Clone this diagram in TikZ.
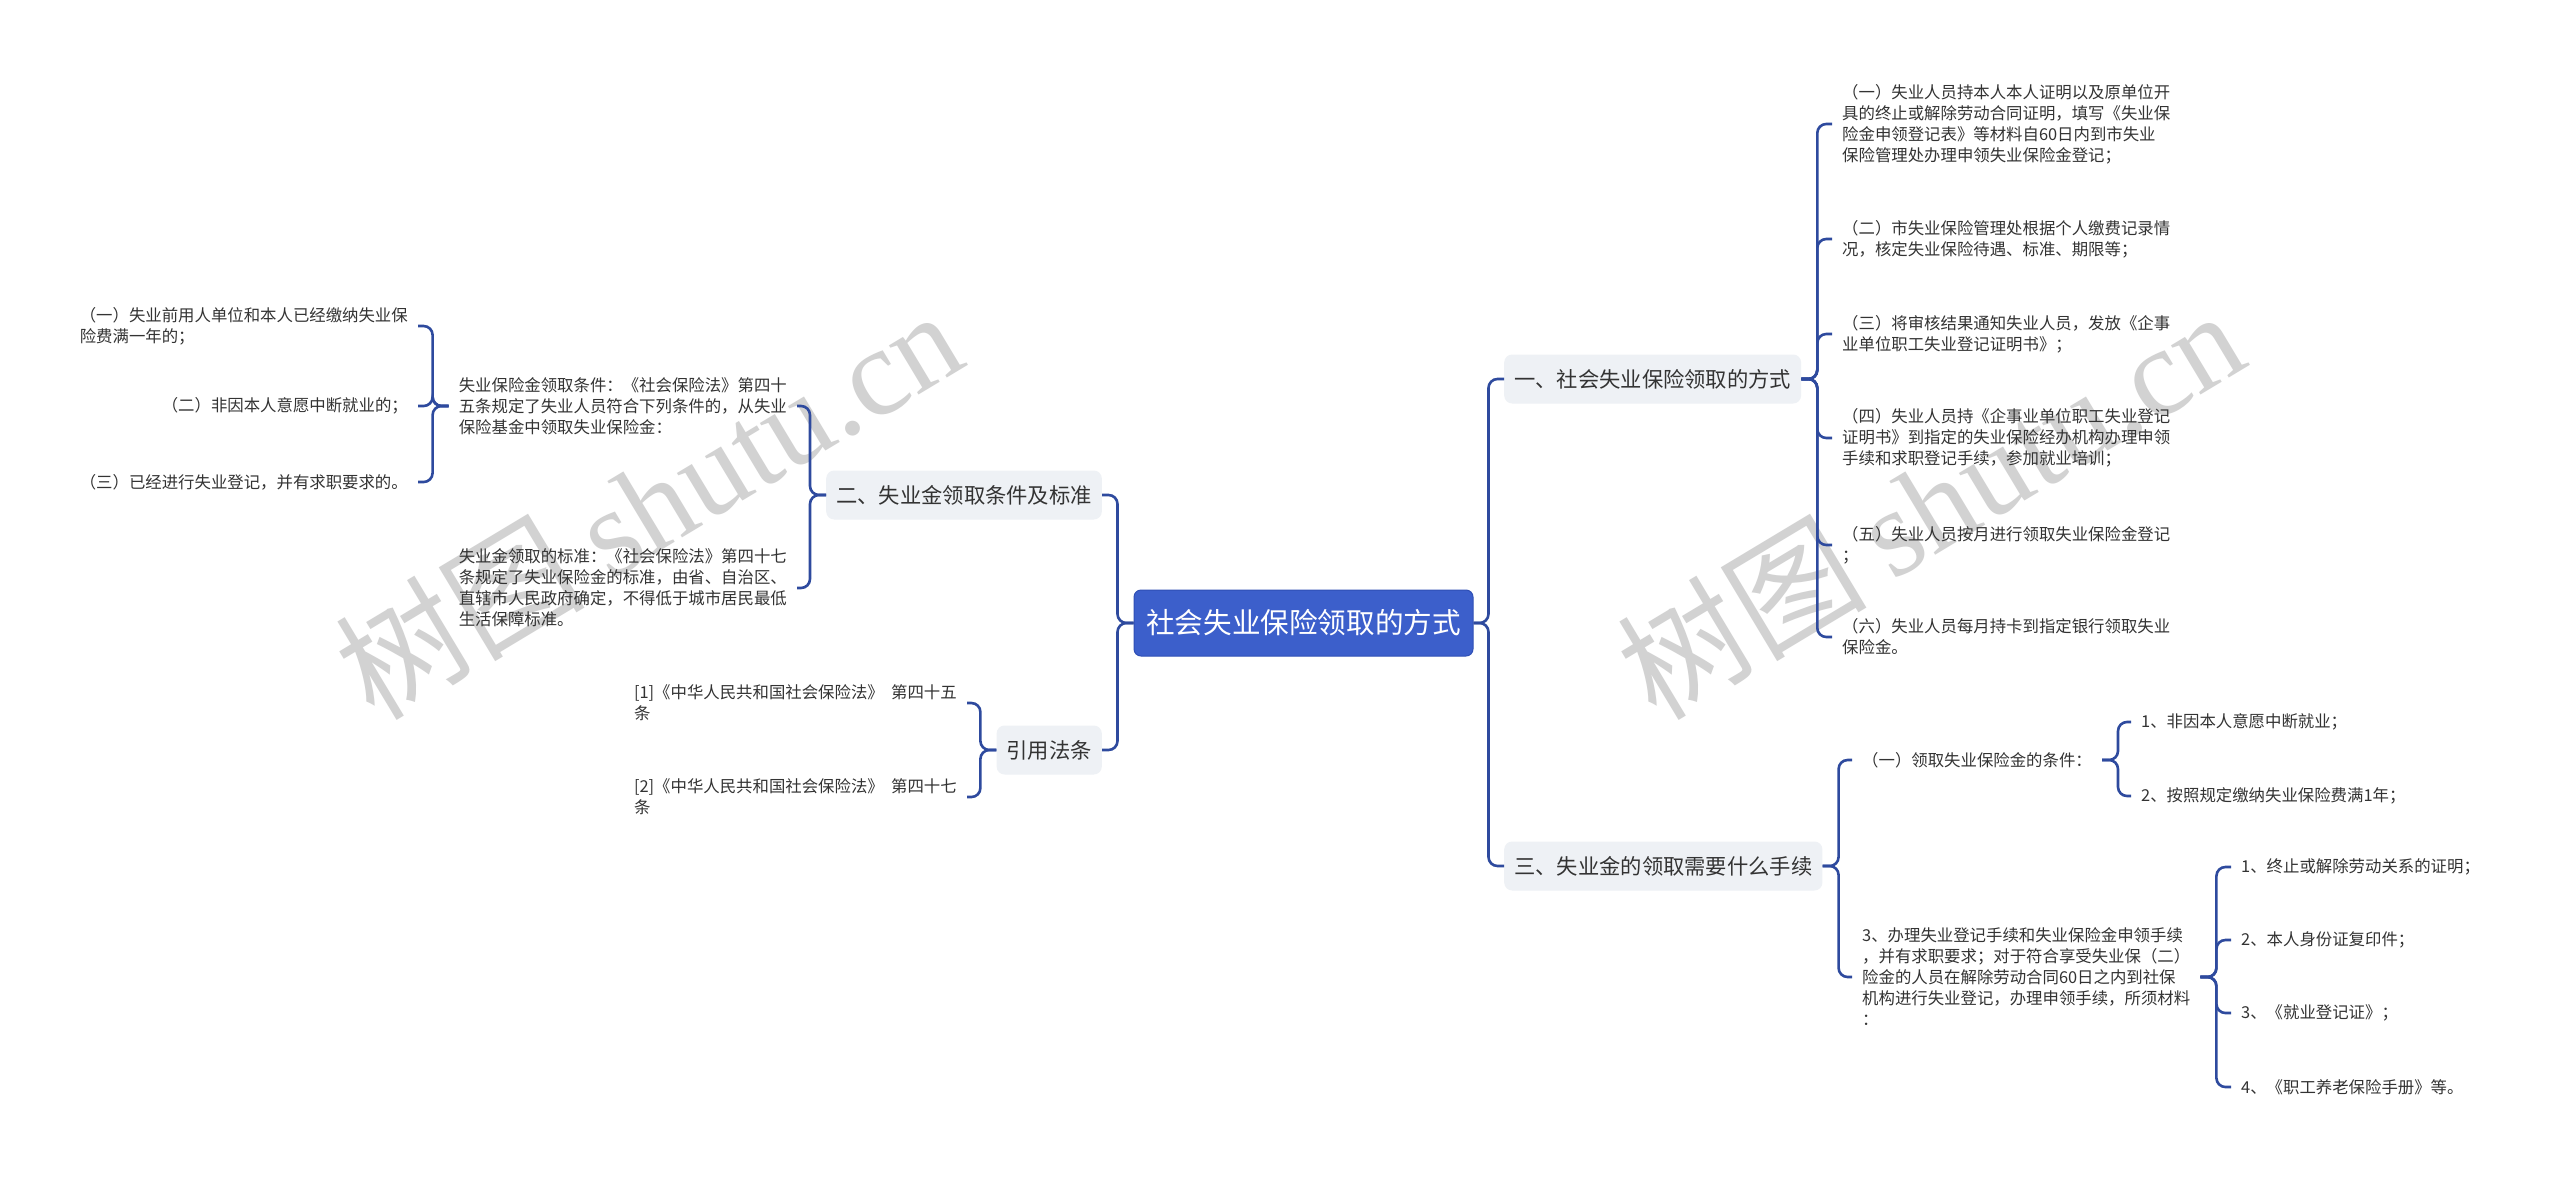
\documentclass[tikz,border=0pt]{standalone}
\usepackage{fontspec}
\setmainfont{Noto Sans CJK SC}
\newfontfamily\wmlatin{Liberation Serif}
\newfontfamily\wmcjk{Noto Sans CJK SC}
\definecolor{rootblue}{HTML}{3C5FCB}
\definecolor{rootborder}{HTML}{2F4FB5}
\definecolor{linecol}{HTML}{2E4A9E}
\definecolor{boxfill}{HTML}{EEF1F5}
\definecolor{txt}{HTML}{333333}
\definecolor{wmgray}{HTML}{D2D2D2}
\begin{document}
\begin{tikzpicture}[x=1pt,y=-1pt,
  conn/.style={draw=linecol, line width=2.6pt, rounded corners=9pt},
  rootnode/.style={fill=rootblue, draw=rootborder, line width=1pt, rounded corners=7pt, text=white, font=\fontsize{28.6}{34}\selectfont, minimum width=339pt, minimum height=66pt, inner sep=0pt},
  branchnode/.style={fill=boxfill, rounded corners=8pt, text=txt, font=\fontsize{21.3}{26}\selectfont, minimum height=49pt, inner xsep=10pt, inner ysep=0pt},
  leafR/.style={anchor=west, align=left, text=txt, font=\fontsize{16.4}{21}\selectfont, inner xsep=10pt, inner ysep=2pt},
  leafL/.style={anchor=east, align=left, text=txt, font=\fontsize{16.4}{21}\selectfont, inner xsep=10pt, inner ysep=2pt},
  wmark/.style={rotate=31, text=wmgray, font=\fontsize{125}{130}\selectfont, inner sep=0pt}
]
\useasboundingbox (0,0) rectangle (2560,1176);
\fill[white] (0,0) rectangle (2560,1176);

% watermarks
\node[wmark] (wm1) at (648,503) {\wmcjk 树图\hspace{0.2em}\wmlatin shutu.cn};
\node[wmark] (wm2) at (1930,503) {\wmcjk 树图\hspace{0.2em}\wmlatin shutu.cn};

% root and branches
\node[rootnode] (root) at (1303.5,623) {社会失业保险领取的方式};
\node[branchnode, anchor=west] (b1) at (1504,379) {一、社会失业保险领取的方式};
\node[branchnode, anchor=west] (b3) at (1504,866) {三、失业金的领取需要什么手续};
\node[branchnode, anchor=east] (b2) at (1102,495) {二、失业金领取条件及标准};
\node[branchnode, anchor=east] (b4) at (1102,750) {引用法条};

% branch 1 leaves
\node[leafR] (r1) at (1832,124) {（一）失业人员持本人本人证明以及原单位开\\具的终止或解除劳动合同证明，填写《失业保\\险金申领登记表》等材料自60日内到市失业\\保险管理处办理申领失业保险金登记；};
\node[leafR] (r2) at (1832,239) {（二）市失业保险管理处根据个人缴费记录情\\况，核定失业保险待遇、标准、期限等；};
\node[leafR] (r3) at (1832,334) {（三）将审核结果通知失业人员，发放《企事\\业单位职工失业登记证明书》；};
\node[leafR] (r4) at (1832,438) {（四）失业人员持《企事业单位职工失业登记\\证明书》到指定的失业保险经办机构办理申领\\手续和求职登记手续，参加就业培训；};
\node[leafR] (r5) at (1832,545) {（五）失业人员按月进行领取失业保险金登记\\；};
\node[leafR] (r6) at (1832,637) {（六）失业人员每月持卡到指定银行领取失业\\保险金。};

% branch 3 leaves
\node[leafR] (c1) at (1852,760) {（一）领取失业保险金的条件：};
\node[leafR] (c2) at (1852,977) {3、办理失业登记手续和失业保险金申领手续\\，并有求职要求；对于符合享受失业保（二）\\险金的人员在解除劳动合同60日之内到社保\\机构进行失业登记，办理申领手续，所须材料\\：};
\node[leafR] (c11) at (2131,722) {1、非因本人意愿中断就业；};
\node[leafR] (c12) at (2131,796) {2、按照规定缴纳失业保险费满1年；};
\node[leafR] (c21) at (2231,867) {1、终止或解除劳动关系的证明；};
\node[leafR] (c22) at (2231,940) {2、本人身份证复印件；};
\node[leafR] (c23) at (2231,1013) {3、《就业登记证》；};
\node[leafR] (c24) at (2231,1087) {4、《职工养老保险手册》等。};

% branch 2 leaves
\node[leafL] (l1) at (797,406) {失业保险金领取条件：《社会保险法》第四十\\五条规定了失业人员符合下列条件的，从失业\\保险基金中领取失业保险金：};
\node[leafL] (l2) at (797,588) {失业金领取的标准：《社会保险法》第四十七\\条规定了失业保险金的标准，由省、自治区、\\直辖市人民政府确定，不得低于城市居民最低\\生活保障标准。};
\node[leafL] (l11) at (418,326) {（一）失业前用人单位和本人已经缴纳失业保\\险费满一年的；};
\node[leafL] (l12) at (418,406) {（二）非因本人意愿中断就业的；};
\node[leafL] (l13) at (418,482) {（三）已经进行失业登记，并有求职要求的。};

% branch 4 leaves
\node[leafL] (q1) at (967,703) {[1]《中华人民共和国社会保险法》\hspace{0.45em}第四十五\\条};
\node[leafL] (q2) at (967,797) {[2]《中华人民共和国社会保险法》\hspace{0.45em}第四十七\\条};

% connectors
\draw[conn] (root.east) -- ++(15,0) |- (b1.west);
\draw[conn] (root.east) -- ++(15,0) |- (b3.west);
\draw[conn] (root.west) -- ++(-16,0) |- (b2.east);
\draw[conn] (root.west) -- ++(-16,0) |- (b4.east);
\foreach \n in {r1,r2,r3,r4,r5,r6} {\draw[conn] (b1.east) -- ++(16,0) |- (\n.west);}
\foreach \n in {c1,c2} {\draw[conn] (b3.east) -- ++(16,0) |- (\n.west);}
\foreach \n in {c11,c12} {\draw[conn] (c1.east) -- ++(16,0) |- (\n.west);}
\foreach \n in {c21,c22,c23,c24} {\draw[conn] (c2.east) -- ++(16,0) |- (\n.west);}
\foreach \n in {l1,l2} {\draw[conn] (b2.west) -- ++(-16,0) |- (\n.east);}
\foreach \n in {l11,l12,l13} {\draw[conn] (l1.west) -- ++(-16,0) |- (\n.east);}
\foreach \n in {q1,q2} {\draw[conn] (b4.west) -- ++(-16,0) |- (\n.east);}
\end{tikzpicture}
\end{document}
